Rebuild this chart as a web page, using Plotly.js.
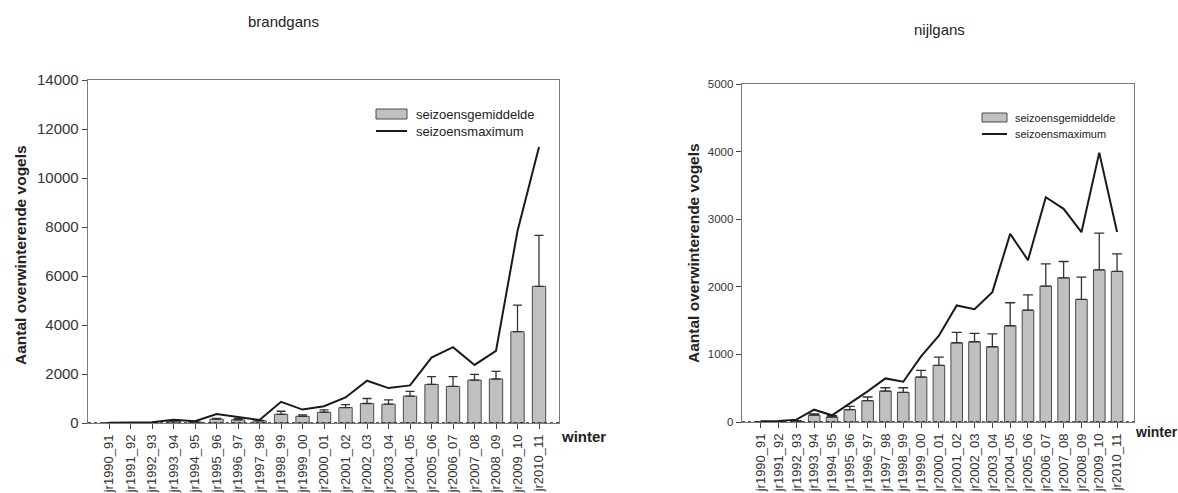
<!DOCTYPE html>
<html>
<head>
<meta charset="utf-8">
<script src="https://cdn.plot.ly/plotly-3.0.1.min.js"></script>
<style>
html,body{margin:0;padding:0;background:#fff;}
#chart{width:1178px;height:493px;}
</style>
</head>
<body>
<div id="chart"></div>
<script>
const categories = ['jr1990_91','jr1991_92','jr1992_93','jr1993_94','jr1994_95','jr1995_96','jr1996_97','jr1997_98','jr1998_99','jr1999_00','jr2000_01','jr2001_02','jr2002_03','jr2003_04','jr2004_05','jr2005_06','jr2006_07','jr2007_08','jr2008_09','jr2009_10','jr2010_11'];

const brandMean = [5, 5, 10, 80, 40, 160, 130, 90, 356, 274, 438, 630, 795, 767, 1096, 1575, 1493, 1753, 1795, 3726, 5575];
const brandErr  = [0, 0, 0, 15, 10, 30, 50, 20, 124, 55, 96, 123, 205, 178, 192, 315, 397, 233, 315, 1082, 2083];
const brandMax  = [10, 10, 30, 130, 70, 370, 250, 120, 863, 548, 685, 1041, 1726, 1425, 1534, 2671, 3096, 2370, 2945, 7836, 11270];

const nijlMean = [5, 5, 15, 103, 74, 182, 315, 458, 438, 665, 837, 1172, 1187, 1113, 1424, 1655, 2010, 2133, 1813, 2251, 2227];
const nijlErr  = [0, 0, 5, 15, 20, 50, 55, 49, 69, 99, 124, 153, 123, 192, 340, 227, 330, 241, 330, 542, 260];
const nijlMax  = [10, 15, 35, 182, 99, 270, 453, 645, 596, 970, 1276, 1724, 1670, 1921, 2783, 2394, 3325, 3153, 2808, 3985, 2812];

const titles = ['brandgans', 'nijlgans'];
const legendNames = ['seizoensgemiddelde', 'seizoensmaximum'];
const yTitle = 'Aantal overwinterende vogels';
const xTitle = 'winter';

const W = 1178, H = 493;
const px = v => v / W;
const py = v => 1 - v / H;

const FONT = 'Arial, "Liberation Sans", sans-serif';
const barFill = '#c0c0c0', barLine = '#4a4a4a', lineCol = '#1a1a1a';

function bar(y, err, xa, ya, width, capw) {
  return {type:'bar', x:categories, y:y, xaxis:xa, yaxis:ya, width:width,
    marker:{color:barFill, line:{color:barLine, width:1}},
    error_y:{type:'data', array:err, arrayminus:err.map(()=>0), symmetric:false, color:'#333', thickness:1.3, width:capw},
    showlegend:false, hoverinfo:'x+y'};
}
function line(y, xa, ya) {
  return {type:'scatter', mode:'lines', x:categories, y:y, xaxis:xa, yaxis:ya,
    line:{color:lineCol, width:2}, showlegend:false};
}

const data = [
  bar(brandMean, brandErr, 'x', 'y', 0.62, 4.5),
  line(brandMax, 'x', 'y'),
  bar(nijlMean, nijlErr, 'x2', 'y2', 0.65, 5),
  line(nijlMax, 'x2', 'y2')
];

function xax(domain, range, fs) {
  return {domain:domain, type:'category', range:range, showline:true, mirror:true, linecolor:'#7a7a7a', linewidth:1.3,
    ticks:'outside', ticklen:5, tickcolor:'#444', tickwidth:1, tickangle:-90,
    tickfont:{family:FONT, size:fs, color:'#333'}, showgrid:false, zeroline:false, fixedrange:true};
}
function yax(domain, range, dtick, fs, anchor) {
  return {domain:domain, range:range, dtick:dtick, anchor:anchor, tickformat:'d', showline:true, mirror:true, linecolor:'#7a7a7a', linewidth:1.3,
    ticks:'outside', ticklen:5, tickcolor:'#444', tickwidth:1,
    tickfont:{family:FONT, size:fs, color:'#333'}, showgrid:false, zeroline:false, fixedrange:true};
}

const shapes = [
  {type:'line', xref:'x domain', yref:'y', x0:0, x1:1, y0:0, y1:0, line:{color:'#222', width:1.5, dash:'dot'}},
  {type:'line', xref:'x2 domain', yref:'y2', x0:0, x1:1, y0:0, y1:0, line:{color:'#222', width:1.5, dash:'dot'}},
  // legend symbols
  {type:'rect', xref:'paper', yref:'paper', x0:px(376), x1:px(407), y0:py(119), y1:py(109), fillcolor:barFill, line:{color:barLine, width:1}},
  {type:'line', xref:'paper', yref:'paper', x0:px(376), x1:px(407), y0:py(131), y1:py(131), line:{color:lineCol, width:2}},
  {type:'rect', xref:'paper', yref:'paper', x0:px(982), x1:px(1007), y0:py(122), y1:py(113), fillcolor:barFill, line:{color:barLine, width:1}},
  {type:'line', xref:'paper', yref:'paper', x0:px(982), x1:px(1007), y0:py(134), y1:py(134), line:{color:lineCol, width:2}}
];

function ann(text, x, y, size, opts) {
  return Object.assign({text:text, xref:'paper', yref:'paper', x:px(x), y:py(y), showarrow:false,
    font:{family:FONT, size:size, color:'#222'}, xanchor:'center', yanchor:'middle'}, opts||{});
}

const annotations = [
  ann(titles[0], 283, 21, 15),
  ann(titles[1], 939, 29, 15),
  ann('<b>' + yTitle + '</b>', 20, 255, 15.5, {textangle:-90}),
  ann('<b>' + yTitle + '</b>', 693, 253, 15.5, {textangle:-90}),
  ann('<b>' + xTitle + '</b>', 583, 436, 15),
  ann('<b>' + xTitle + '</b>', 1156, 432, 14),
  ann(legendNames[0], 414, 114, 13, {xanchor:'left'}),
  ann(legendNames[1], 414, 131, 13, {xanchor:'left'}),
  ann(legendNames[0], 1013, 118, 11, {xanchor:'left'}),
  ann(legendNames[1], 1013, 134, 11, {xanchor:'left'})
];

const layout = {
  width:W, height:H, margin:{l:0, r:0, t:0, b:0}, paper_bgcolor:'#fff', plot_bgcolor:'#fff',
  showlegend:false, bargap:0.35,
  xaxis: xax([px(88), px(559)], [-0.98, 20.93], 13),
  yaxis: yax([py(423), py(80)], [0, 14000], 2000, 15, 'x'),
  xaxis2: Object.assign(xax([px(742), px(1134)], [-1.05, 20.95], 13), {anchor:'y2'}),
  yaxis2: yax([py(422), py(84)], [0, 5000], 1000, 11.5, 'x2'),
  shapes: shapes,
  annotations: annotations,
  font:{family:FONT}
};

Plotly.newPlot('chart', data, layout, {staticPlot:true, displayModeBar:false});
</script>
</body>
</html>
